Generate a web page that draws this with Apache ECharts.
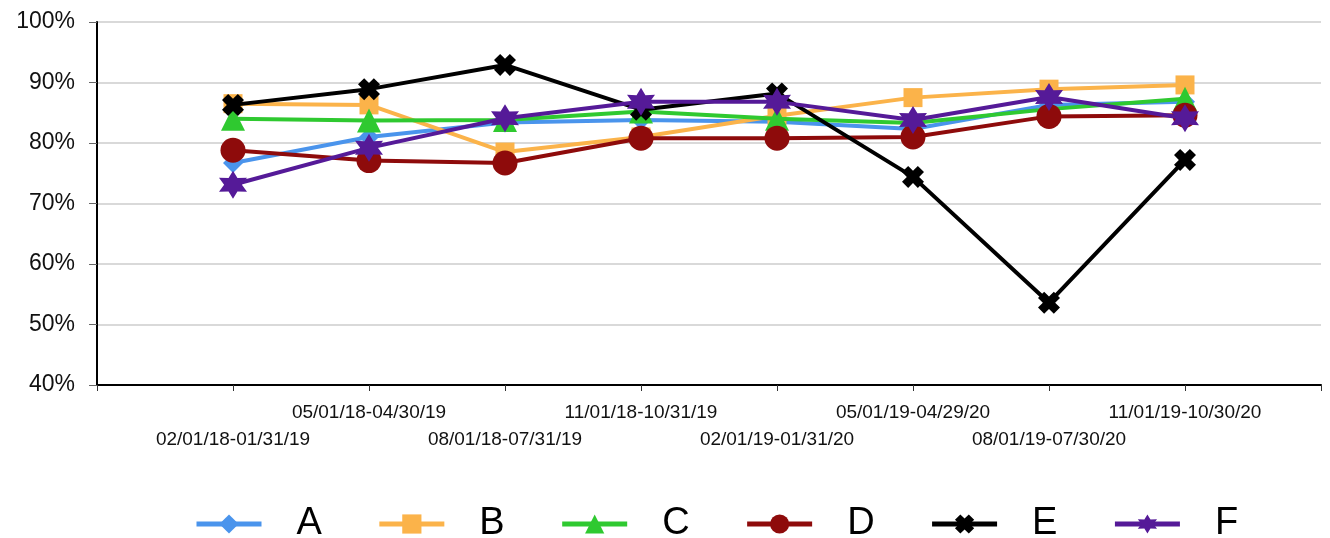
<!DOCTYPE html>
<html>
<head>
<meta charset="utf-8">
<script src="https://cdn.jsdelivr.net/npm/echarts@6/dist/echarts.min.js"></script>
<style>
  html, body { margin: 0; padding: 0; background: #fff; }
  #chart { width: 1330px; height: 538px; }
</style>
</head>
<body>
<div id="chart"></div>
<script>
// Rolling 12-month periods; blank slots pad both ends of the axis
const categories = ['', '02/01/18-01/31/19', '05/01/18-04/30/19', '08/01/18-07/31/19', '11/01/18-10/31/19',
  '02/01/19-01/31/20', '05/01/19-04/29/20', '08/01/19-07/30/20', '11/01/19-10/30/20', ''];

// Rates in percent for each period (null for the padding slots)
const seriesA = [null, 76.7, 81.0, 83.4, 83.8, 83.5, 82.3, 86.3, 86.8, null];
const seriesB = [null, 86.5, 86.3, 78.5, 81.0, 84.5, 87.5, 88.9, 89.6, null];
const seriesC = [null, 84.0, 83.7, 83.8, 85.2, 84.0, 83.3, 85.6, 87.3, null];
const seriesD = [null, 78.8, 77.1, 76.7, 80.8, 80.8, 81.0, 84.4, 84.6, null];
const seriesE = [null, 86.3, 88.9, 92.9, 85.5, 88.2, 74.4, 53.6, 77.2, null];
const seriesF = [null, 73.1, 79.2, 84.1, 86.8, 86.8, 83.8, 87.6, 84.1, null];

const yTicks = { min: 40, max: 100, step: 10 };

const names = ['A', 'B', 'C', 'D', 'E', 'F'];
const values = [seriesA, seriesB, seriesC, seriesD, seriesE, seriesF];
const colors = ['#4a94ec', '#fbb34a', '#2fc930', '#8e0b0b', '#000000', '#551a98'];

const crossPath = 'path://M0,28 L28,0 L50,22 L72,0 L100,28 L78,50 L100,72 L72,100 L50,78 L28,100 L0,72 L22,50 Z';
const starPath = 'path://M100,0 L127.5,52.4 L186.6,50 L155,100 L186.6,150 L127.5,147.6 L100,200 L72.5,147.6 L13.4,150 L45,100 L13.4,50 L72.5,52.4 Z';
const symbols = ['diamond', 'rect', 'triangle', 'circle', crossPath, starPath];
const symbolSizes = [20, 19, 24, 25, 22, 28];

const font = '"Liberation Sans", Arial, Helvetica, sans-serif';

const chart = echarts.init(document.getElementById('chart'), null, { renderer: 'canvas' });

chart.setOption({
  animation: false,
  backgroundColor: '#ffffff',
  grid: { left: 97, right: 9, top: 22, bottom: 153, containLabel: false },
  xAxis: {
    type: 'category',
    data: categories,
    boundaryGap: false,
    axisLine: { lineStyle: { color: '#000', width: 2 } },
    axisTick: { show: true, length: 6, lineStyle: { color: '#333', width: 1 } },
    splitLine: { show: false },
    axisLabel: {
      interval: 0,
      margin: 14,
      fontFamily: font,
      fontSize: 19,
      color: '#111',
      lineHeight: 27,
      // alternate labels between two rows so neighbours don't collide
      formatter: function (v, i) { return i % 2 === 1 ? '\n' + v : v; }
    }
  },
  yAxis: {
    type: 'value',
    min: yTicks.min,
    max: yTicks.max,
    interval: yTicks.step,
    axisLine: { show: true, lineStyle: { color: '#000', width: 2 } },
    axisTick: { show: true, length: 8, lineStyle: { color: '#666', width: 1 } },
    splitLine: { lineStyle: { color: '#d9d9d9', width: 2 } },
    axisLabel: {
      margin: 22,
      fontFamily: font,
      fontSize: 23,
      color: '#111',
      formatter: '{value}%'
    }
  },
  legend: {
    left: 189,
    top: 500,
    itemWidth: 65,
    itemHeight: 24,
    itemGap: 55,
    lineStyle: { width: 5 },
    textStyle: { fontFamily: font, fontSize: 38, color: '#000', padding: [0, 0, 0, 30], width: 27 },
    data: names
  },
  series: names.map(function (n, i) {
    return {
      name: n,
      type: 'line',
      data: values[i],
      color: colors[i],
      symbol: symbols[i],
      symbolSize: symbolSizes[i],
      showAllSymbol: true,
      connectNulls: false,
      lineStyle: { width: 4, color: colors[i] },
      itemStyle: { color: colors[i] },
      z: 2 + i
    };
  })
});
</script>
</body>
</html>
